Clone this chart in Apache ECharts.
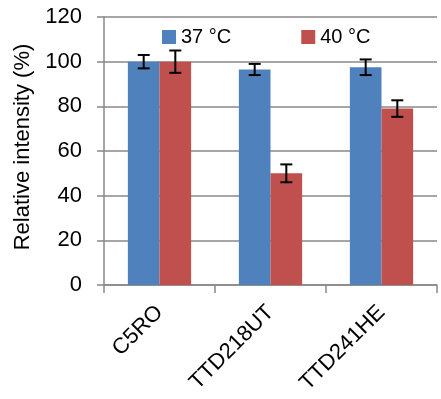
<!DOCTYPE html>
<html><head><meta charset="utf-8">
<script src="https://cdn.jsdelivr.net/npm/echarts@6/dist/echarts.min.js"></script>
<style>html,body{margin:0;padding:0;background:#fff}#c{width:441px;height:399px}</style>
</head><body><div id="c"></div>
<script>
const categories = ['C5RO', 'TTD218UT', 'TTD241HE'];
const seriesNames = ['37 °C', '40 °C'];
const values37 = [100, 96.5, 97.5];
const err37 = [3, 2.5, 3.5];
const values40 = [100, 50, 79];
const err40 = [5, 4, 3.7];
const yTicks = [0, 20, 40, 60, 80, 100, 120];

const colors = ['#4F81BD', '#C0504D'];
const catGap = 0.43;
const font = 'Liberation Sans, Arial, sans-serif';

function errData(vals, errs) {
  return vals.map((v, i) => [i, v - errs[i], v + errs[i]]);
}
function errSeries(vals, errs, side) {
  return {
    type: 'custom',
    z: 10,
    silent: true,
    data: errData(vals, errs),
    renderItem: function (params, api) {
      const i = api.value(0);
      const lo = api.coord([i, api.value(1)]);
      const hi = api.coord([i, api.value(2)]);
      const band = api.size([1, 0])[0];
      const bw = band * (1 - catGap) / 2;
      const x = lo[0] + side * bw / 2;
      const cap = 6;
      const st = { stroke: '#000', lineWidth: 2 };
      return {
        type: 'group',
        children: [
          { type: 'line', shape: { x1: x, y1: lo[1], x2: x, y2: hi[1] }, style: st },
          { type: 'line', shape: { x1: x - cap, y1: lo[1], x2: x + cap, y2: lo[1] }, style: st },
          { type: 'line', shape: { x1: x - cap, y1: hi[1], x2: x + cap, y2: hi[1] }, style: st }
        ]
      };
    }
  };
}

const chart = echarts.init(document.getElementById('c'), null, { renderer: 'canvas' });
chart.setOption({
  animation: false,
  color: colors,
  textStyle: { fontFamily: font },
  legend: {
    data: seriesNames,
    top: 22,
    left: 157,
    itemWidth: 14,
    itemHeight: 14,
    itemGap: 70,
    icon: 'rect',
    textStyle: { fontSize: 20, color: '#000', fontFamily: font }
  },
  grid: { left: 104, right: 4, top: 17, bottom: 114, containLabel: false },
  xAxis: {
    type: 'category',
    data: categories,
    axisLine: { lineStyle: { color: '#888', width: 1.5 } },
    axisTick: { show: true, length: 8, lineStyle: { color: '#888', width: 1.5 } },
    axisLabel: { rotate: 45, fontSize: 22, color: '#000', margin: 24, fontFamily: font }
  },
  yAxis: {
    type: 'value',
    min: yTicks[0],
    max: yTicks[yTicks.length - 1],
    interval: 20,
    name: 'Relative intensity (%)',
    nameLocation: 'middle',
    nameGap: 70,
    nameTextStyle: { fontSize: 22, color: '#000', fontFamily: font, padding: [0, 0, 0, 8] },
    axisLine: { show: true, lineStyle: { color: '#888', width: 1.5 } },
    axisTick: { show: true, length: 7, lineStyle: { color: '#888', width: 1.5 } },
    axisLabel: { fontSize: 22, color: '#000', margin: 22, fontFamily: font },
    splitLine: { show: true, lineStyle: { color: '#888', width: 1.5 } }
  },
  series: [
    { name: seriesNames[0], type: 'bar', data: values37, barGap: '0%', barCategoryGap: (catGap * 100) + '%', itemStyle: { color: colors[0] } },
    { name: seriesNames[1], type: 'bar', data: values40, barGap: '0%', barCategoryGap: (catGap * 100) + '%', itemStyle: { color: colors[1] } },
    errSeries(values37, err37, -1),
    errSeries(values40, err40, 1)
  ]
});
</script>
</body></html>
